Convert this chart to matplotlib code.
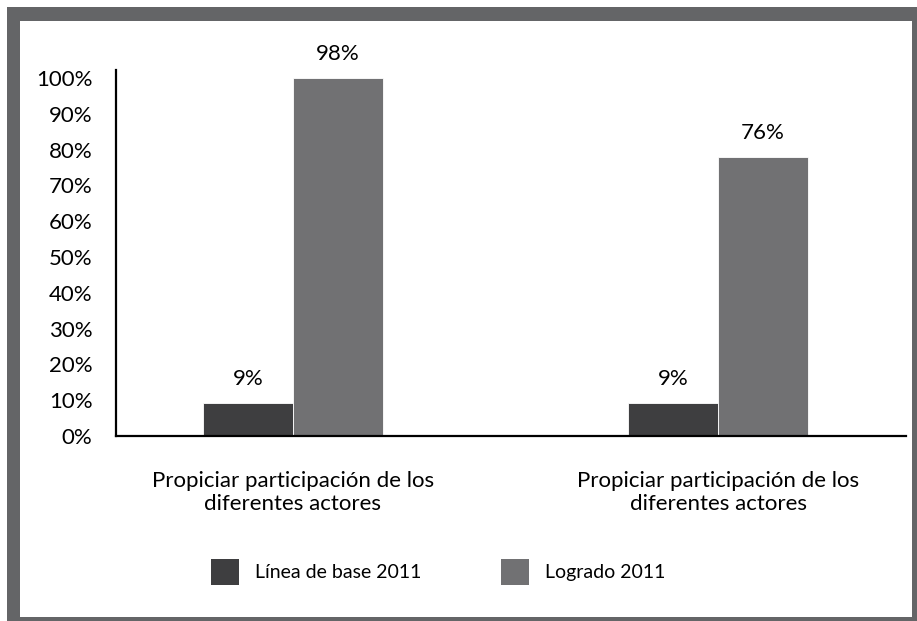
import matplotlib
matplotlib.use("Agg")
import matplotlib.pyplot as plt
from matplotlib.patches import Rectangle, Patch
import numpy as np

plt.rcParams['font.family'] = ['Lato', 'DejaVu Sans']

# data
categories = ["Propiciar participación de los\ndiferentes actores",
              "Propiciar participación de los\ndiferentes actores"]
series_names = ["Línea de base 2011", "Logrado 2011"]
base_heights = [9.2, 9.2]        # bar heights as drawn
logrado_heights = [100.0, 78.0]  # bar heights as drawn
base_labels = ["9%", "9%"]       # printed values
logrado_labels = ["98%", "76%"]
yticks = [0, 10, 20, 30, 40, 50, 60, 70, 80, 90, 100]

dark = "#3e3e40"
grey = "#717173"
frame = "#646567"

W, H = 917, 621
fig = plt.figure(figsize=(W / 100, H / 100), dpi=100)

# grey frame round the chart
fig.add_artist(Rectangle((7 / W, 0), 1, 1 - 7 / H, transform=fig.transFigure,
                         facecolor=frame, edgecolor="none", zorder=0))
fig.add_artist(Rectangle((20 / W, 4 / H), (912 - 20) / W, (600 - 4) / H,
                         transform=fig.transFigure, facecolor="white",
                         edgecolor="none", zorder=0))

ax = fig.add_axes([116 / W, 1 - 436 / H, (906 - 116) / W, (436 - 70) / H])
ax.set_facecolor("none")

x = np.arange(len(categories))
w = 0.212
b1 = ax.bar(x - w / 2, base_heights, w, color=dark, edgecolor="white", linewidth=0.6)
b2 = ax.bar(x + w / 2, logrado_heights, w, color=grey, edgecolor="white", linewidth=0.6)

for bars, labels in [(b1, base_labels), (b2, logrado_labels)]:
    for rect, lab in zip(bars, labels):
        ax.annotate(lab, (rect.get_x() + rect.get_width() / 2, rect.get_height()),
                    xytext=(0, 17), textcoords="offset points",
                    ha="center", va="center", fontsize=16)

ax.set_xlim(-0.416, 1.442)
ax.set_ylim(0, 102.2)
ax.set_yticks(yticks)
ax.set_yticklabels([f"{t}%" for t in yticks])
ax.set_xticks(x)
ax.set_xticklabels(categories, linespacing=1.22)
ax.tick_params(axis="y", length=0, pad=17, labelsize=16)
ax.tick_params(axis="x", length=0, pad=25, labelsize=16)

for s in ["top", "right"]:
    ax.spines[s].set_visible(False)
for s in ["left", "bottom"]:
    ax.spines[s].set_linewidth(1.6)
    ax.spines[s].set_color("black")

handles = [Patch(facecolor=dark), Patch(facecolor=grey)]
fig.legend(handles, series_names, loc="center", bbox_to_anchor=(438 / W, 1 - 572 / H),
           ncol=2, frameon=False, fontsize=14, handlelength=1.45, handleheight=1.65,
           handletextpad=0.8, columnspacing=4.1)

fig.savefig("out.png", dpi=100)
